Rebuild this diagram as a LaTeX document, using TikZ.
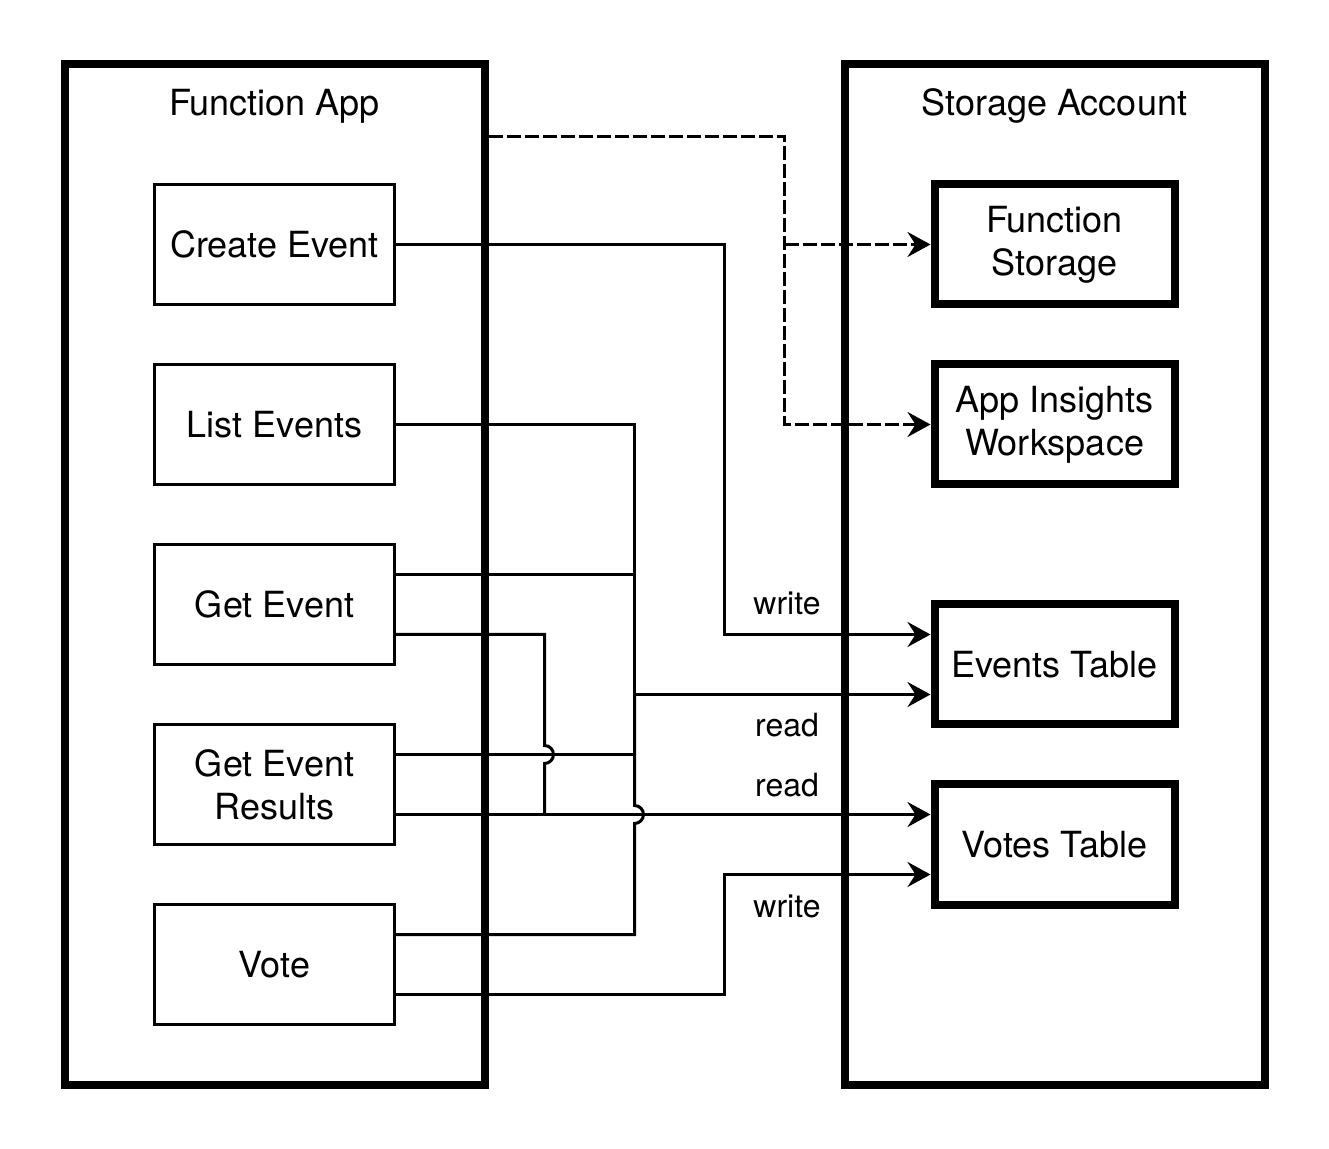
\documentclass[tikz,border=0pt]{standalone}
\usepackage{fontspec}
\setmainfont{TeX Gyre Heros}
\usetikzlibrary{arrows.meta}

\begin{document}
\begin{tikzpicture}[x=0.5pt, y=-0.5pt,
    group/.style={draw, line width=4pt, minimum width=210pt, minimum height=510pt},
    func/.style={draw, line width=1.25pt, minimum width=120pt, minimum height=60pt, align=center, font=\fontsize{18}{21.5}\selectfont},
    store/.style={func, line width=4pt},
    title/.style={anchor=base, font=\fontsize{18}{21.5}\selectfont},
    lbl/.style={anchor=base, font=\fontsize{16}{19}\selectfont},
    wire/.style={line width=1.5pt},
    flow/.style={wire, -{Stealth[length=11.5pt, width=12.5pt, inset=4pt]}},
    logflow/.style={flow, dash pattern=on 7pt off 2pt}]
    \useasboundingbox (0,0) rectangle (1329,1149);

    % containers
    \node[group] (fapp) at (274.5,574.5) {};
    \node[group] (stacc) at (1054.5,574.5) {};
    \node[title] (fapptitle) at (274.5,116) {Function App};
    \node[title] (stacctitle) at (1054.5,116) {Storage Account};

    % functions
    \node[func] (create) at (274.5,244.5) {Create Event};
    \node[func] (list) at (274.5,424.5) {List Events};
    \node[func] (getev) at (274.5,604.5) {Get Event};
    \node[func] (results) at (274.5,784.5) {Get Event\\Results};
    \node[func] (vote) at (274.5,964.5) {Vote};

    % storage
    \node[store] (fstore) at (1054.5,244.5) {Function\\Storage};
    \node[store] (insights) at (1054.5,424.5) {App Insights\\Workspace};
    \node[store] (evtab) at (1054.5,664.5) {Events Table};
    \node[store] (vttab) at (1054.5,844.5) {Votes Table};

    % bus columns and ports
    \coordinate (logbus) at (784.5,0);
    \coordinate (writebus) at (724.5,0);
    \coordinate (readbus) at (634.5,0);
    \coordinate (votebus) at (544.5,0);
    \coordinate (logout) at ([yshift=-38pt]fapp.north east);
    \coordinate (getup) at ([yshift=15pt]getev.east);
    \coordinate (getdown) at ([yshift=-15pt]getev.east);
    \coordinate (resup) at ([yshift=15pt]results.east);
    \coordinate (resdown) at ([yshift=-15pt]results.east);
    \coordinate (voteup) at ([yshift=15pt]vote.east);
    \coordinate (votedown) at ([yshift=-15pt]vote.east);
    \coordinate (evwrite) at ([yshift=15pt]evtab.west);
    \coordinate (evread) at ([yshift=-15pt]evtab.west);
    \coordinate (vtread) at ([yshift=15pt]vttab.west);
    \coordinate (vtwrite) at ([yshift=-15pt]vttab.west);
    \coordinate (hopget) at (votebus |- resup);
    \coordinate (hopvote) at (readbus |- vtread);

    % logging
    \draw[logflow] (logout) -| (logbus |- insights.west) -- (insights.west);
    \draw[logflow] (logbus |- fstore.west) -- (fstore.west);

    % table access
    \draw[flow] (create.east) -| (writebus |- evwrite) -- (evwrite);
    \draw[flow] (list.east) -| (readbus |- evread) -- (evread);
    \draw[wire] (getup) -| (readbus |- evread);
    \draw[wire] (resup) -| (readbus |- evread);
    \draw[wire] (voteup) -- (readbus |- voteup) -- ([yshift=-4.5pt]hopvote) arc[start angle=90, end angle=-90, radius=9] -- (readbus |- evread);
    \draw[wire] (getdown) -- (votebus |- getdown) -- ([yshift=4.5pt]hopget) arc[start angle=-90, end angle=90, radius=9] -- (votebus |- vtread);
    \draw[flow] (resdown) -- (vtread);
    \draw[flow] (votedown) -| (writebus |- vtwrite) -- (vtwrite);

    \node[lbl] (writeev) at (787,615) {write};
    \node[lbl] (readev) at (787,737) {read};
    \node[lbl] (readvt) at (787,797) {read};
    \node[lbl] (writevt) at (787,917) {write};
\end{tikzpicture}
\end{document}
